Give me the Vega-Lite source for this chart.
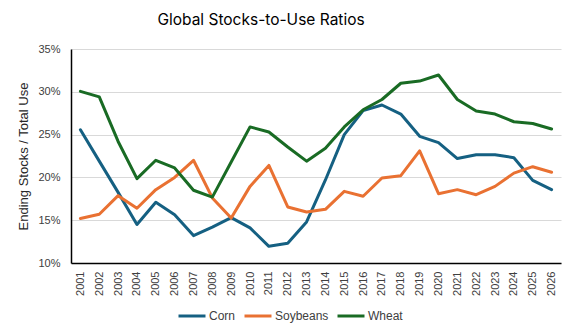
{
  "$schema": "https://vega.github.io/schema/vega-lite/v6.json",
  "width": 490,
  "height": 214,
  "autosize": {"type": "none"},
  "padding": {"left": 71, "top": 49, "right": 15, "bottom": 73},
  "background": "white",
  "title": {"text": "Global Stocks-to-Use Ratios", "anchor": "middle", "dx": -55, "offset": 15, "fontSize": 15.5, "fontWeight": "normal", "font": "Inter", "color": "#000000"},
  "data": {"values": [
    {"year": "2001", "crop": "Corn", "value": 0.2557},
    {"year": "2002", "crop": "Corn", "value": 0.219},
    {"year": "2003", "crop": "Corn", "value": 0.1825},
    {"year": "2004", "crop": "Corn", "value": 0.145},
    {"year": "2005", "crop": "Corn", "value": 0.171},
    {"year": "2006", "crop": "Corn", "value": 0.1565},
    {"year": "2007", "crop": "Corn", "value": 0.132},
    {"year": "2008", "crop": "Corn", "value": 0.142},
    {"year": "2009", "crop": "Corn", "value": 0.153},
    {"year": "2010", "crop": "Corn", "value": 0.141},
    {"year": "2011", "crop": "Corn", "value": 0.1195},
    {"year": "2012", "crop": "Corn", "value": 0.123},
    {"year": "2013", "crop": "Corn", "value": 0.148},
    {"year": "2014", "crop": "Corn", "value": 0.197},
    {"year": "2015", "crop": "Corn", "value": 0.25},
    {"year": "2016", "crop": "Corn", "value": 0.278},
    {"year": "2017", "crop": "Corn", "value": 0.2846},
    {"year": "2018", "crop": "Corn", "value": 0.274},
    {"year": "2019", "crop": "Corn", "value": 0.248},
    {"year": "2020", "crop": "Corn", "value": 0.2406},
    {"year": "2021", "crop": "Corn", "value": 0.222},
    {"year": "2022", "crop": "Corn", "value": 0.2265},
    {"year": "2023", "crop": "Corn", "value": 0.2265},
    {"year": "2024", "crop": "Corn", "value": 0.223},
    {"year": "2025", "crop": "Corn", "value": 0.1965},
    {"year": "2026", "crop": "Corn", "value": 0.1857},
    {"year": "2001", "crop": "Soybeans", "value": 0.152},
    {"year": "2002", "crop": "Soybeans", "value": 0.157},
    {"year": "2003", "crop": "Soybeans", "value": 0.1787},
    {"year": "2004", "crop": "Soybeans", "value": 0.164},
    {"year": "2005", "crop": "Soybeans", "value": 0.1857},
    {"year": "2006", "crop": "Soybeans", "value": 0.2},
    {"year": "2007", "crop": "Soybeans", "value": 0.22},
    {"year": "2008", "crop": "Soybeans", "value": 0.176},
    {"year": "2009", "crop": "Soybeans", "value": 0.1525},
    {"year": "2010", "crop": "Soybeans", "value": 0.1895},
    {"year": "2011", "crop": "Soybeans", "value": 0.214},
    {"year": "2012", "crop": "Soybeans", "value": 0.1655},
    {"year": "2013", "crop": "Soybeans", "value": 0.1596},
    {"year": "2014", "crop": "Soybeans", "value": 0.1627},
    {"year": "2015", "crop": "Soybeans", "value": 0.1837},
    {"year": "2016", "crop": "Soybeans", "value": 0.178},
    {"year": "2017", "crop": "Soybeans", "value": 0.1993},
    {"year": "2018", "crop": "Soybeans", "value": 0.202},
    {"year": "2019", "crop": "Soybeans", "value": 0.231},
    {"year": "2020", "crop": "Soybeans", "value": 0.181},
    {"year": "2021", "crop": "Soybeans", "value": 0.1857},
    {"year": "2022", "crop": "Soybeans", "value": 0.1798},
    {"year": "2023", "crop": "Soybeans", "value": 0.1895},
    {"year": "2024", "crop": "Soybeans", "value": 0.205},
    {"year": "2025", "crop": "Soybeans", "value": 0.2125},
    {"year": "2026", "crop": "Soybeans", "value": 0.206},
    {"year": "2001", "crop": "Wheat", "value": 0.3005},
    {"year": "2002", "crop": "Wheat", "value": 0.294},
    {"year": "2003", "crop": "Wheat", "value": 0.242},
    {"year": "2004", "crop": "Wheat", "value": 0.1985},
    {"year": "2005", "crop": "Wheat", "value": 0.22},
    {"year": "2006", "crop": "Wheat", "value": 0.211},
    {"year": "2007", "crop": "Wheat", "value": 0.185},
    {"year": "2008", "crop": "Wheat", "value": 0.177},
    {"year": "2009", "crop": "Wheat", "value": 0.218},
    {"year": "2010", "crop": "Wheat", "value": 0.259},
    {"year": "2011", "crop": "Wheat", "value": 0.253},
    {"year": "2012", "crop": "Wheat", "value": 0.2355},
    {"year": "2013", "crop": "Wheat", "value": 0.219},
    {"year": "2014", "crop": "Wheat", "value": 0.234},
    {"year": "2015", "crop": "Wheat", "value": 0.259},
    {"year": "2016", "crop": "Wheat", "value": 0.279},
    {"year": "2017", "crop": "Wheat", "value": 0.291},
    {"year": "2018", "crop": "Wheat", "value": 0.31},
    {"year": "2019", "crop": "Wheat", "value": 0.3125},
    {"year": "2020", "crop": "Wheat", "value": 0.3196},
    {"year": "2021", "crop": "Wheat", "value": 0.291},
    {"year": "2022", "crop": "Wheat", "value": 0.2775},
    {"year": "2023", "crop": "Wheat", "value": 0.274},
    {"year": "2024", "crop": "Wheat", "value": 0.265},
    {"year": "2025", "crop": "Wheat", "value": 0.263},
    {"year": "2026", "crop": "Wheat", "value": 0.2565}
  ]},
  "mark": {"type": "line", "strokeWidth": 3, "strokeJoin": "round", "strokeCap": "round"},
  "encoding": {
    "x": {
      "field": "year", "type": "ordinal",
      "scale": {"type": "point", "padding": 0.5},
      "axis": {"title": null, "labelAngle": -90, "labelAlign": "right", "labelBaseline": "middle", "labelPadding": 8, "labelFontSize": 11, "labelFont": "Liberation Sans", "labelColor": "#404040", "ticks": false, "domainColor": "#000000", "domainWidth": 1.5, "grid": false}
    },
    "y": {
      "field": "value", "type": "quantitative",
      "scale": {"domain": [0.10, 0.35], "nice": false, "zero": false},
      "axis": {"title": "Ending Stocks / Total Use", "titleFont": "Liberation Sans", "titleFontSize": 13, "titleFontWeight": "normal", "titleColor": "#262626", "titlePadding": 7, "values": [0.10, 0.15, 0.20, 0.25, 0.30, 0.35], "format": ".0%", "labelFont": "Liberation Sans", "labelFontSize": 11, "labelColor": "#404040", "labelPadding": 11, "ticks": false, "domainColor": "#000000", "domainWidth": 1.5, "gridColor": "#d9d9d9", "gridWidth": 1}
    },
    "color": {
      "field": "crop", "type": "nominal",
      "scale": {"domain": ["Corn", "Soybeans", "Wheat"], "range": ["#156082", "#E97132", "#196B24"]},
      "legend": {"title": null, "orient": "none", "legendX": 106, "legendY": 252, "direction": "horizontal", "symbolType": "stroke", "symbolSize": 729, "symbolStrokeWidth": 3, "labelFont": "Liberation Sans", "labelFontSize": 12, "labelColor": "#404040", "labelOffset": 2, "columnPadding": 2}
    }
  },
  "config": {"view": {"stroke": null}}
}
